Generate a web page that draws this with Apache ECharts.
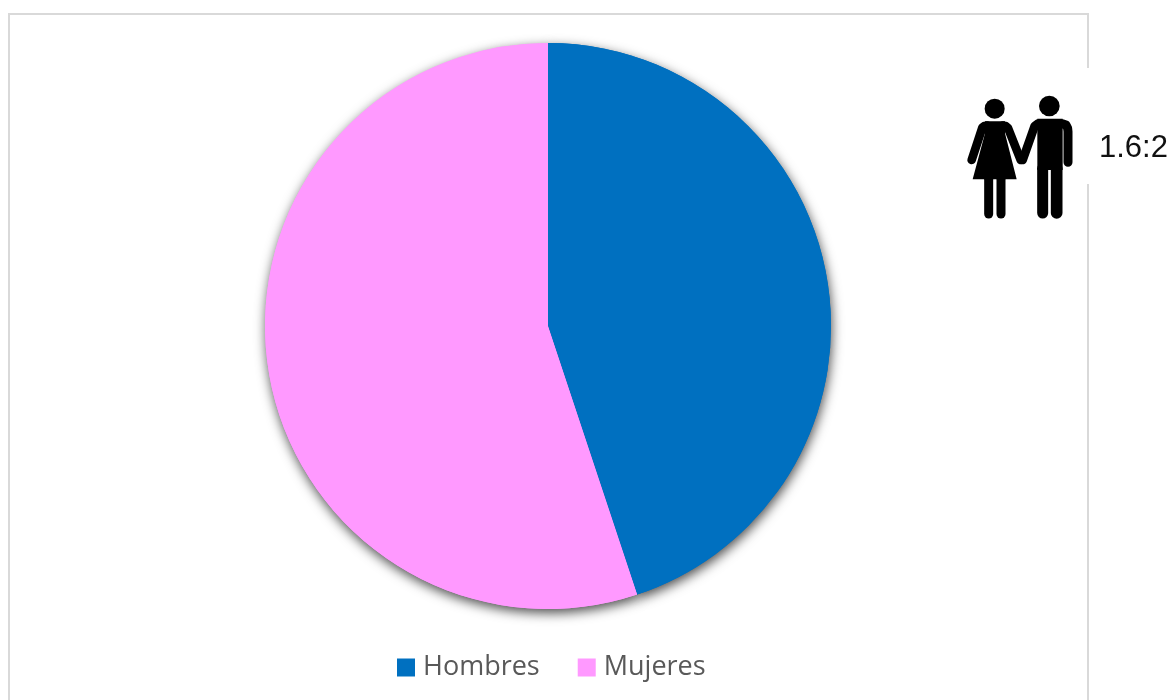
<!DOCTYPE html>
<html><head><meta charset="utf-8">
<style>html,body{margin:0;padding:0;background:#fff}#c{width:1171px;height:700px}</style>
<script src="https://cdn.jsdelivr.net/npm/echarts@6/dist/echarts.min.js"></script>
</head><body><div id="c"></div>
<script>
var categories = ['Hombres', 'Mujeres'];
var values = [44.9, 55.1];
var colors = ['#0070C0', '#FF99FF'];
var ratioLabel = '1.6:2';

function limb(points, width) {
  return { type: 'polyline', shape: { points: points, smooth: 0 },
    style: { fill: null, stroke: '#000', lineWidth: width, lineCap: 'round', lineJoin: 'round' } };
}
var pieData = categories.map(function (n, i) {
  return { name: n, value: values[i], itemStyle: { color: colors[i] } };
});
var pieBase = { type: 'pie', center: [548, 326], radius: [0, 283], startAngle: 90, clockwise: true,
  label: { show: false }, labelLine: { show: false }, silent: true, data: pieData };

var chart = echarts.init(document.getElementById('c'), null, { renderer: 'canvas' });
chart.setOption({
  animation: false,
  backgroundColor: '#fff',
  legend: {
    left: 392, top: 649, itemWidth: 18, itemHeight: 18, itemGap: 38,
    icon: 'rect', data: categories,
    textStyle: { fontFamily: 'Open Sans', fontSize: 27, color: '#595959', padding: [0, 0, 0, 3] }
  },
  series: [
    Object.assign({}, pieBase, { z: 1,
      itemStyle: { shadowBlur: 12, shadowOffsetX: 1, shadowOffsetY: 4, shadowColor: 'rgba(0,0,0,0.7)' } }),
    Object.assign({}, pieBase, { z: 2, itemStyle: { shadowBlur: 0 } })
  ],
  graphic: [
    { type: 'rect', z: -1, shape: { x: 9, y: 14, width: 1079, height: 700 },
      style: { fill: null, stroke: '#D9D9D9', lineWidth: 2 } },
    { type: 'rect', z: 0, shape: { x: 1080, y: 68, width: 20, height: 116 }, style: { fill: '#fff' } },
    { type: 'text', z: 5, left: 1099, top: 133,
      style: { text: ratioLabel, font: '31px "Liberation Sans"', fill: '#111' } },
    { type: 'group', z: 5, x: 950, y: 0, scaleX: 1 / 3, scaleY: 1 / 3, children: [
      { type: 'circle', shape: { cx: 134, cy: 326, r: 30 }, style: { fill: '#000' } },
      { type: 'circle', shape: { cx: 298, cy: 318, r: 31 }, style: { fill: '#000' } },
      { type: 'polygon', shape: { points: [[105,364],[165,364],[165,400],[200,538],[68,538],[105,400]] }, style: { fill: '#000' } },
      limb([[112,377],[103,378],[97,383],[65,480]], 26),
      limb([[158,377],[167,378],[174,384],[212,480]], 26),
      limb([[116,538],[116,642]], 27),
      limb([[153,538],[153,642]], 27),
      { type: 'polygon', shape: { points: [[262,356],[338,356],[338,510],[262,510]] }, style: { fill: '#000' } },
      limb([[300,371],[337,371],[348,375],[353,385],[354,395],[354,487]], 27),
      limb([[275,370],[264,371],[254,378],[218,480]], 26),
      limb([[278,505],[278,639]], 33),
      limb([[320,505],[320,639]], 35)
    ]}
  ]
});
</script></body></html>
